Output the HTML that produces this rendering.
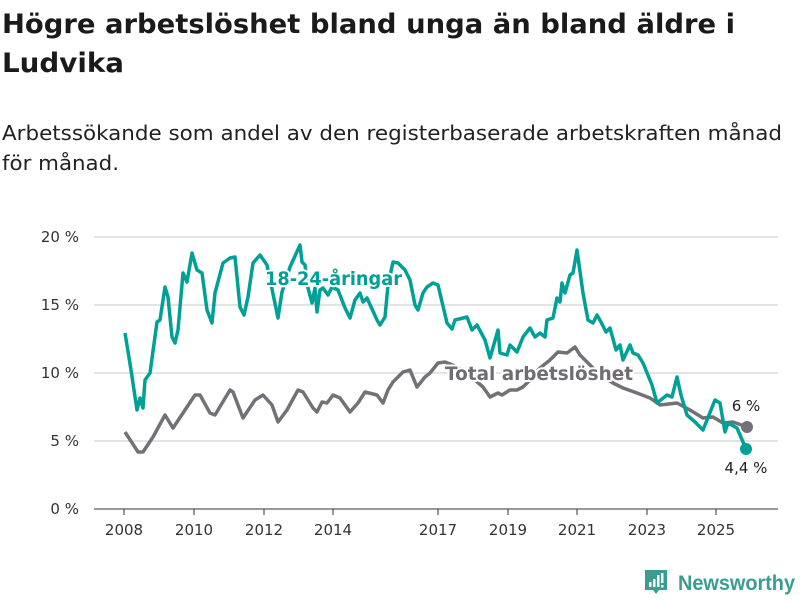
<!DOCTYPE html>
<html><head><meta charset="utf-8"><style>
body{margin:0;background:#fff;width:800px;height:600px;overflow:hidden;font-family:"DejaVu Sans",sans-serif;}
</style></head><body>
<svg width="800" height="600" xmlns="http://www.w3.org/2000/svg" font-family="DejaVu Sans, sans-serif">
<text x="2" y="33" font-size="27" font-weight="bold" fill="#1a1a1a" textLength="733" lengthAdjust="spacingAndGlyphs">Högre arbetslöshet bland unga än bland äldre i</text>
<text x="2" y="72" font-size="27" font-weight="bold" fill="#1a1a1a" textLength="122" lengthAdjust="spacingAndGlyphs">Ludvika</text>
<text x="2" y="140" font-size="20" fill="#222" textLength="780" lengthAdjust="spacingAndGlyphs">Arbetssökande som andel av den registerbaserade arbetskraften månad</text>
<text x="2" y="170" font-size="20" fill="#222" textLength="117" lengthAdjust="spacingAndGlyphs">för månad.</text>
<g stroke="#dcdcdc" stroke-width="1.5">
<line x1="94" x2="778" y1="237" y2="237"/><line x1="94" x2="778" y1="305" y2="305"/>
<line x1="94" x2="778" y1="373" y2="373"/><line x1="94" x2="778" y1="441" y2="441"/>
</g>
<line x1="94" x2="778" y1="509" y2="509" stroke="#333" stroke-width="1"/>
<g font-size="15" fill="#333" text-anchor="end">
<text x="79" y="242">20 %</text><text x="79" y="310">15 %</text><text x="79" y="378">10 %</text><text x="79" y="446">5 %</text><text x="79" y="514">0 %</text>
</g>
<g stroke="#333"><line x1="124" x2="124" y1="509" y2="515"/><line x1="194" x2="194" y1="509" y2="515"/><line x1="264" x2="264" y1="509" y2="515"/><line x1="333" x2="333" y1="509" y2="515"/><line x1="438" x2="438" y1="509" y2="515"/><line x1="508" x2="508" y1="509" y2="515"/><line x1="577" x2="577" y1="509" y2="515"/><line x1="647" x2="647" y1="509" y2="515"/><line x1="716" x2="716" y1="509" y2="515"/></g>
<g font-size="15" fill="#333" text-anchor="middle">
<text x="124" y="535">2008</text><text x="194" y="535">2010</text><text x="264" y="535">2012</text><text x="333" y="535">2014</text><text x="438" y="535">2017</text><text x="508" y="535">2019</text><text x="577" y="535">2021</text><text x="647" y="535">2023</text><text x="716" y="535">2025</text>
</g>
<polyline fill="none" stroke="#747078" stroke-width="3.5" stroke-linejoin="round" points="125,432 138,452 143,452 153,437 165,415 173,428 185,410 195,395 200,395 210,413 215,415 230,390 233,392 243,418 255,400 263,395 272,405 278,422 287,410 298,390 303,392 313,408 317,412 322,402 327,403 333,395 340,398 350,412 358,403 365,392 377,395 383,403 388,390 393,382 403,372 410,370 417,387 425,377 430,373 438,363 445,362 455,366 465,372 475,380 483,387 490,397 498,393 502,395 510,390 517,390 523,387 530,380 540,368 550,360 558,352 567,353 575,347 580,355 587,362 597,372 605,378 613,383 623,388 637,393 650,398 660,405 677,403 690,410 703,418 713,417 723,423 733,422 747,427"/>
<polyline fill="none" stroke="#00a096" stroke-width="3.5" stroke-linejoin="round" points="125,333 131,370 137,410 140,398 143,408 145,380 150,373 157,322 160,320 165,287 168,297 172,337 175,343 178,330 183,273 187,282 192,253 197,270 202,273 207,310 212,323 215,293 223,263 230,258 235,257 240,307 244,315 248,297 253,263 260,255 267,265 278,318 282,292 290,267 300,245 302,262 305,265 308,288 312,303 315,288 317,312 320,290 323,288 328,295 332,287 338,290 345,308 350,318 355,300 360,293 363,302 367,298 377,320 380,325 385,317 388,285 393,262 398,263 405,270 410,280 415,305 418,310 423,293 427,287 433,283 438,285 447,323 452,329 455,320 467,317 472,330 477,325 485,340 490,358 498,330 500,353 507,355 510,345 517,352 523,337 530,328 535,337 540,333 545,337 547,320 553,318 557,298 560,302 562,283 565,293 570,275 573,273 577,250 583,293 588,320 593,323 597,315 601,322 606,332 610,328 616,350 620,345 623,360 630,345 633,353 638,355 643,363 652,385 657,403 667,395 672,397 677,377 681,395 687,415 695,422 703,430 715,400 720,403 725,432 728,423 737,428 746,449"/>
<circle cx="747" cy="427" r="6" fill="#747078"/>
<circle cx="746" cy="449" r="6" fill="#00a096"/>
<text x="746" y="411" font-size="15" fill="#222" text-anchor="middle">6 %</text>
<text x="746" y="473" font-size="15" fill="#222" text-anchor="middle">4,4 %</text>
<text x="265" y="285" font-size="19" font-weight="bold" fill="#00a096" stroke="#fff" stroke-width="4" paint-order="stroke" stroke-linejoin="round" textLength="137" lengthAdjust="spacingAndGlyphs">18-24-åringar</text>
<text x="445" y="380" font-size="19" font-weight="bold" fill="#6f6d72" stroke="#fff" stroke-width="4" paint-order="stroke" stroke-linejoin="round" textLength="188" lengthAdjust="spacingAndGlyphs">Total arbetslöshet</text>
<g transform="translate(645,570)">
<path d="M0,0 h22 v20 h-8 l-3,4 l-3,-4 h-8 z" fill="#3a9d8f"/>
<rect x="4" y="12" width="2.5" height="5" fill="#fff"/><rect x="8" y="9" width="2.5" height="8" fill="#fff"/><rect x="12" y="5" width="2.5" height="12" fill="#fff"/><rect x="16" y="3" width="2.5" height="10" fill="#fff"/><rect x="16" y="15" width="2.5" height="2.5" fill="#fff"/>
</g>
<text x="678" y="590" font-size="21" font-weight="bold" fill="#3a9d8f" textLength="117" lengthAdjust="spacingAndGlyphs" font-family="Liberation Sans, sans-serif">Newsworthy</text>
</svg>
</body></html>
